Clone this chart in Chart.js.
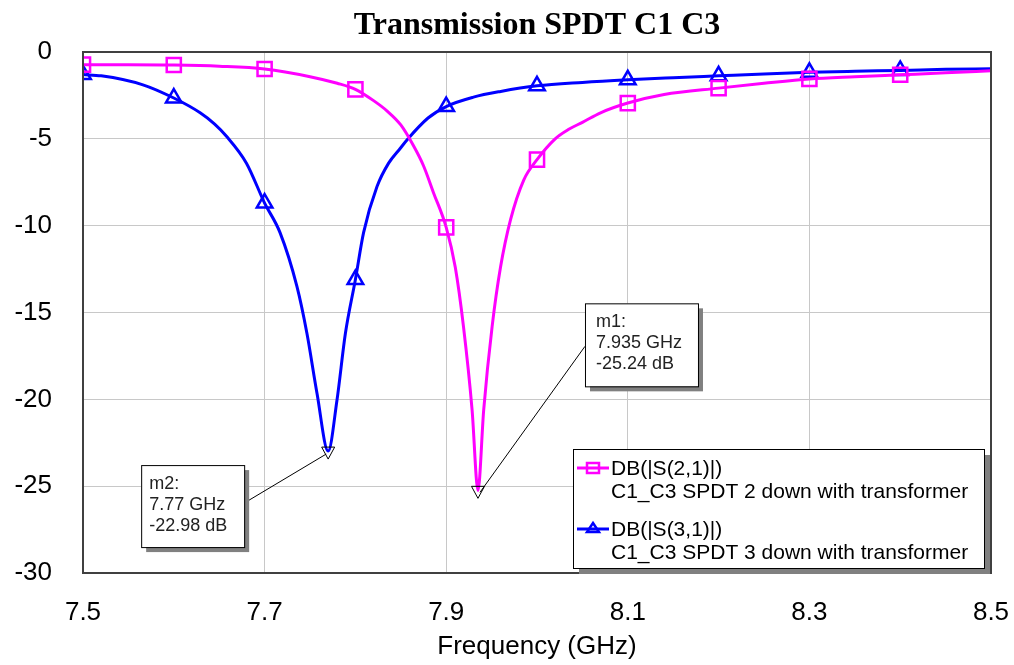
<!DOCTYPE html>
<html>
<head>
<meta charset="utf-8">
<title>Transmission SPDT C1 C3</title>
<script src="https://cdn.jsdelivr.net/npm/chart.js@4.4.1/dist/chart.umd.min.js"></script>
<style>
  html, body { margin: 0; padding: 0; background: #fff; }
  #wrap { width: 1014px; height: 665px; }
</style>
</head>
<body>
<div id="wrap"><canvas id="chart" width="1014" height="665"></canvas></div>
<script>
// --- Data ---
const freqS21 = [7.50, 7.55, 7.60, 7.65, 7.70, 7.75, 7.78, 7.80, 7.82, 7.835, 7.85, 7.864, 7.875, 7.886,
  7.90, 7.91, 7.919, 7.9285, 7.935, 7.9413, 7.9506, 7.9598, 7.9708, 7.9855, 8.00, 8.02, 8.035, 8.05, 8.07,
  8.10, 8.14, 8.20, 8.25, 8.30, 8.35, 8.40, 8.45, 8.50];
const dbS21 = [-0.73, -0.73, -0.75, -0.82, -0.98, -1.42, -1.8, -2.15, -2.8, -3.4, -4.2, -5.4, -6.55, -8.1,
  -10.1, -12.4, -15.8, -20.6, -25.24, -20.6, -15.8, -12.4, -9.67, -7.36, -6.2, -5.0, -4.45, -4.05, -3.5,
  -2.94, -2.45, -2.08, -1.8, -1.55, -1.42, -1.31, -1.2, -1.08];

const freqS31 = [7.50, 7.52, 7.566, 7.60, 7.629, 7.645, 7.658, 7.68, 7.70, 7.717, 7.7356, 7.7466, 7.7577, 7.77,
  7.7797, 7.789, 7.80, 7.809, 7.8238, 7.8366, 7.8495, 7.857, 7.88, 7.90, 7.93, 7.96, 8.00, 8.05,
  8.10, 8.15, 8.20, 8.25, 8.30, 8.35, 8.40, 8.45, 8.50];
const dbS31 = [-1.3, -1.37, -1.89, -2.65, -3.5, -4.15, -4.85, -6.4, -8.7, -10.4, -13.5, -16.2, -19.65, -22.98,
  -20.05, -16.2, -13.1, -10.4, -7.75, -6.4, -5.54, -5.05, -3.8, -3.14, -2.6, -2.27, -1.95, -1.75,
  -1.6, -1.48, -1.37, -1.26, -1.17, -1.11, -1.06, -1.0, -0.96];

// frequencies that carry a symbol on the traces
const symbolFreqs = [7.5, 7.6, 7.7, 7.8, 7.9, 8.0, 8.1, 8.2, 8.3, 8.4];

// marker readouts
const markerNames = ["m1", "m2"];
const markerFreqs = [7.935, 7.77];
const markerDbs = [-25.24, -22.98];

const seriesNames = ["DB(|S(2,1)|)", "DB(|S(3,1)|)"];
const seriesNotes = ["C1_C3 SPDT 2 down with transformer", "C1_C3 SPDT 3 down with transformer"];
const seriesColors = ["#ff00ff", "#0000ff"];

const SANS = "'Liberation Sans', Arial, sans-serif";

function toPoints(xs, ys) {
  return xs.map((x, i) => ({ x: x, y: ys[i] }));
}

function symbolRadius(r) {
  return (ctx) => {
    const f = ctx.raw ? ctx.raw.x : null;
    return symbolFreqs.some(s => Math.abs(s - f) < 1e-6) ? r : 0;
  };
}

// --- Extra drawing: frame, markers, legend, title ---
const decorations = {
  id: "decorations",
  afterDatasetsDraw(chart) {
    const ctx = chart.ctx;
    const area = chart.chartArea;
    const xs = chart.scales.x, ys = chart.scales.y;

    // plot frame
    ctx.save();
    ctx.strokeStyle = "#404040";
    ctx.lineWidth = 2;
    ctx.strokeRect(area.left, area.top, area.right - area.left, area.bottom - area.top);
    ctx.restore();

    // marker boxes (offsets from the marked point)
    const boxes = [
      { dx: 107, dy: -187, w: 113, h: 83, side: "left", tx: 11 },
      { dx: -187, dy: 14, w: 103, h: 82, side: "right", tx: 8 }
    ];
    markerNames.forEach((name, i) => {
      const px = xs.getPixelForValue(markerFreqs[i]);
      const py = ys.getPixelForValue(markerDbs[i]);
      const b = boxes[i];
      const bx = px + b.dx, by = py + b.dy;

      ctx.save();
      // leader line
      ctx.strokeStyle = "#000";
      ctx.lineWidth = 1;
      ctx.beginPath();
      if (b.side === "left") {
        ctx.moveTo(px + 2, py + 2);
        ctx.lineTo(bx, by + 43);
      } else {
        ctx.moveTo(px - 2, py + 3);
        ctx.lineTo(bx + b.w, by + 38);
      }
      ctx.stroke();

      // downward open triangle
      ctx.beginPath();
      ctx.moveTo(px - 6.5, py - 4);
      ctx.lineTo(px + 6.5, py - 4);
      ctx.lineTo(px, py + 8);
      ctx.closePath();
      ctx.stroke();

      // box with shadow
      ctx.fillStyle = "#808080";
      ctx.fillRect(bx + 5, by + 5, b.w, b.h);
      ctx.fillStyle = "#fff";
      ctx.fillRect(bx, by, b.w, b.h);
      ctx.strokeRect(bx + 0.5, by + 0.5, b.w, b.h);

      ctx.fillStyle = "#222";
      ctx.font = "18px " + SANS;
      ctx.textAlign = "left";
      ctx.textBaseline = "middle";
      const lines = [name + ":", markerFreqs[i] + " GHz", markerDbs[i].toFixed(2) + " dB"];
      lines.forEach((t, k) => ctx.fillText(t, bx + b.tx, by + 19 + k * 21));
      ctx.restore();
    });

    // legend box
    const lx = area.right - 418, ly = area.bottom - 124, lw = 411, lh = 119;
    ctx.save();
    ctx.fillStyle = "#808080";
    ctx.fillRect(lx + 6, ly + 6, lw, lh);
    ctx.fillStyle = "#fff";
    ctx.fillRect(lx, ly, lw, lh);
    ctx.strokeStyle = "#000";
    ctx.lineWidth = 1;
    ctx.strokeRect(lx + 0.5, ly + 0.5, lw, lh);

    seriesNames.forEach((name, i) => {
      const y0 = ly + 19 + i * 61;
      ctx.strokeStyle = seriesColors[i];
      ctx.lineWidth = 3;
      ctx.beginPath();
      ctx.moveTo(lx + 4, y0);
      ctx.lineTo(lx + 36, y0);
      ctx.stroke();
      const cx = lx + 20;
      ctx.lineWidth = 2.5;
      ctx.beginPath();
      if (i === 0) {
        ctx.rect(cx - 6, y0 - 5, 12, 10);
      } else {
        ctx.moveTo(cx, y0 - 6);
        ctx.lineTo(cx + 6, y0 + 3);
        ctx.lineTo(cx - 6, y0 + 3);
        ctx.closePath();
      }
      ctx.stroke();

      ctx.fillStyle = "#000";
      ctx.font = "21px " + SANS;
      ctx.textAlign = "left";
      ctx.textBaseline = "middle";
      ctx.fillText(name, lx + 38, y0 + 1);
      ctx.fillText(seriesNotes[i], lx + 38, y0 + 24);
    });
    ctx.restore();

    // title centred over the plot
    ctx.save();
    ctx.fillStyle = "#000";
    ctx.font = "bold 32px 'Liberation Serif', 'Times New Roman', serif";
    ctx.textAlign = "center";
    ctx.textBaseline = "alphabetic";
    ctx.fillText("Transmission SPDT C1 C3", (area.left + area.right) / 2, 34);
    ctx.restore();
  }
};

const ctx = document.getElementById("chart").getContext("2d");

const chart = new Chart(ctx, {
  type: "line",
  data: {
    datasets: [
      {
        label: seriesNames[0],
        data: toPoints(freqS21, dbS21),
        borderColor: seriesColors[0],
        borderWidth: 3,
        cubicInterpolationMode: "monotone",
        pointStyle: "rect",
        pointRadius: symbolRadius(10),
        pointBorderWidth: 2.5,
        pointBorderColor: seriesColors[0],
        pointBackgroundColor: "rgba(0,0,0,0)",
        fill: false
      },
      {
        label: seriesNames[1],
        data: toPoints(freqS31, dbS31),
        borderColor: seriesColors[1],
        borderWidth: 3,
        cubicInterpolationMode: "monotone",
        pointStyle: "triangle",
        pointRadius: symbolRadius(9),
        pointBorderWidth: 2.5,
        pointBorderColor: seriesColors[1],
        pointBackgroundColor: "rgba(0,0,0,0)",
        fill: false
      }
    ]
  },
  options: {
    responsive: false,
    animation: false,
    events: [],
    layout: { padding: { left: 0, right: 3, top: 52, bottom: 0 } },
    plugins: {
      legend: { display: false },
      title: { display: false },
      tooltip: { enabled: false }
    },
    scales: {
      x: {
        type: "linear",
        min: 7.5,
        max: 8.5,
        grid: { color: "#c8c8c8", lineWidth: 1, drawTicks: false },
        border: { display: false },
        ticks: {
          stepSize: 0.2,
          padding: 24,
          color: "#000",
          font: { family: SANS, size: 26 },
          callback: v => Number(v).toFixed(1)
        },
        title: {
          display: true,
          text: "Frequency (GHz)",
          color: "#000",
          font: { family: SANS, size: 26 },
          padding: { top: 0, bottom: 3 }
        },
        afterFit: s => {
          s.height = 92;
          s.paddingLeft = 0;
          s.paddingRight = 23;
        }
      },
      y: {
        min: -30,
        max: 0,
        grid: { color: "#c8c8c8", lineWidth: 1, drawTicks: false },
        border: { display: false },
        ticks: {
          stepSize: 5,
          padding: 31,
          color: "#000",
          font: { family: SANS, size: 26 }
        },
        afterFit: s => { s.width = 83; }
      }
    }
  },
  plugins: [decorations]
});
</script>
</body>
</html>
